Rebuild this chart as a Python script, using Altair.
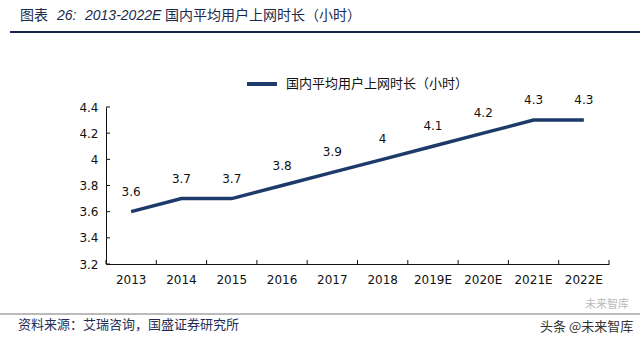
import altair as alt
import pandas as pd

years = ["2013", "2014", "2015", "2016", "2017", "2018", "2019E", "2020E", "2021E", "2022E"]
values = [3.6, 3.7, 3.7, 3.8, 3.9, 4.0, 4.1, 4.2, 4.3, 4.3]
label_texts = ["3.6", "3.7", "3.7", "3.8", "3.9", "4", "4.1", "4.2", "4.3", "4.3"]
series_name = "国内平均用户上网时长（小时）"
y_ticks = [3.2, 3.4, 3.6, 3.8, 4.0, 4.2, 4.4]

W, H = 503, 157
NAVY = "#1d3b6a"
CJK = "Noto Sans CJK SC"
NUM = "DejaVu Sans"

df = pd.DataFrame({"year": years, "value": values, "label": label_texts, "series": series_name})
ydf = pd.DataFrame({"value": y_ticks})
one = pd.DataFrame({"a": [0]})

xaxis = alt.Axis(title=None, labelAngle=0, ticks=False, labelPadding=10,
                 labelOverlap=False,
                 labelFont=NUM, labelFontSize=12, labelColor="#111",
                 domainColor="#111", domainWidth=1)
yaxis = alt.Axis(title=None, values=y_ticks, format=".1~f", ticks=False,
                 labelOverlap=False,
                 grid=False, labelPadding=8, labelFont=NUM, labelFontSize=12,
                 labelColor="#111", domainColor="#111", domainWidth=1)
xscale = alt.Scale(paddingInner=0, paddingOuter=0)
yscale = alt.Scale(domain=[3.2, 4.4], nice=False, zero=False)

xenc = alt.X("year:N", sort=years, scale=xscale, axis=xaxis)
yenc = alt.Y("value:Q", scale=yscale, axis=yaxis)

line = alt.Chart(df).mark_line(strokeWidth=3.5, strokeCap="butt").encode(
    x=xenc, y=yenc,
    color=alt.Color("series:N", scale=alt.Scale(range=[NAVY]),
                    legend=alt.Legend(title=None, orient="none", legendX=139, legendY=-40,
                                      symbolType="stroke", symbolSize=900, labelLimit=400,
                                      symbolStrokeWidth=4, labelFont=CJK, labelFontSize=13,
                                      labelColor="#111", labelOffset=7)))

labels = alt.Chart(df).mark_text(dy=-20, font=NUM, fontSize=12, color="#111").encode(
    x=xenc, y=yenc, text="label:N")

yt = alt.Chart(ydf).mark_rule(color="#111").encode(
    y=yenc, x=alt.value(0), x2=alt.value(4))
xt = alt.Chart(df).mark_rule(color="#111").encode(
    x=alt.X("year:N", sort=years, scale=xscale, axis=xaxis, bandPosition=0),
    y=alt.value(H - 4), y2=alt.value(H))
xt_end = alt.Chart(one).mark_rule(color="#111").encode(
    x=alt.value(W), y=alt.value(H - 4), y2=alt.value(H))

def txt(s, x, y, size=14, font=CJK, style="normal", color="#1a2a4a", align="left"):
    return alt.Chart(one).mark_text(text=s, font=font, fontSize=size, fontStyle=style,
                                    color=color, align=align, baseline="middle").encode(
        x=alt.value(x), y=alt.value(y))

OX, OY = 106, 107
title_parts = [
    txt("图表", 20 - OX, 16 - OY),
    txt("26:", 57 - OX, 16 - OY, font="Liberation Sans", style="italic"),
    txt("2013-2022E", 85 - OX, 16 - OY, font="Liberation Sans", style="italic"),
    txt("国内平均用户上网时长（小时）", 165 - OX, 16 - OY),
]
top_rule = alt.Chart(one).mark_rule(color="#16284a", strokeWidth=2).encode(
    x=alt.value(10 - OX), x2=alt.value(640 - OX), y=alt.value(32 - OY))
foot_rule = alt.Chart(one).mark_rule(color="#777", strokeWidth=1).encode(
    x=alt.value(0 - OX), x2=alt.value(640 - OX), y=alt.value(314 - OY))
footer = txt("资料来源：艾瑞咨询，国盛证券研究所", 18 - OX, 325 - OY, size=13, color="#1f2d55")
wm1 = txt("未来智库", 585 - OX, 305 - OY, size=11, color="#bbb")
wm2 = txt("头条 @未来智库", 540 - OX, 327 - OY, size=13, color="#333")

chart = alt.layer(line, labels, yt, xt, xt_end, top_rule, foot_rule, *title_parts,
                  footer, wm1, wm2).properties(
    width=W, height=H,
    padding={"left": OX, "top": OY, "right": 640 - OX - W, "bottom": 343 - OY - H},
    autosize=alt.AutoSizeParams(type="none"),
    background="white",
).configure_view(stroke=None).configure_axis(labelOverlap=False)

chart.save("out.html", embed_options={"renderer": "svg", "actions": False})
